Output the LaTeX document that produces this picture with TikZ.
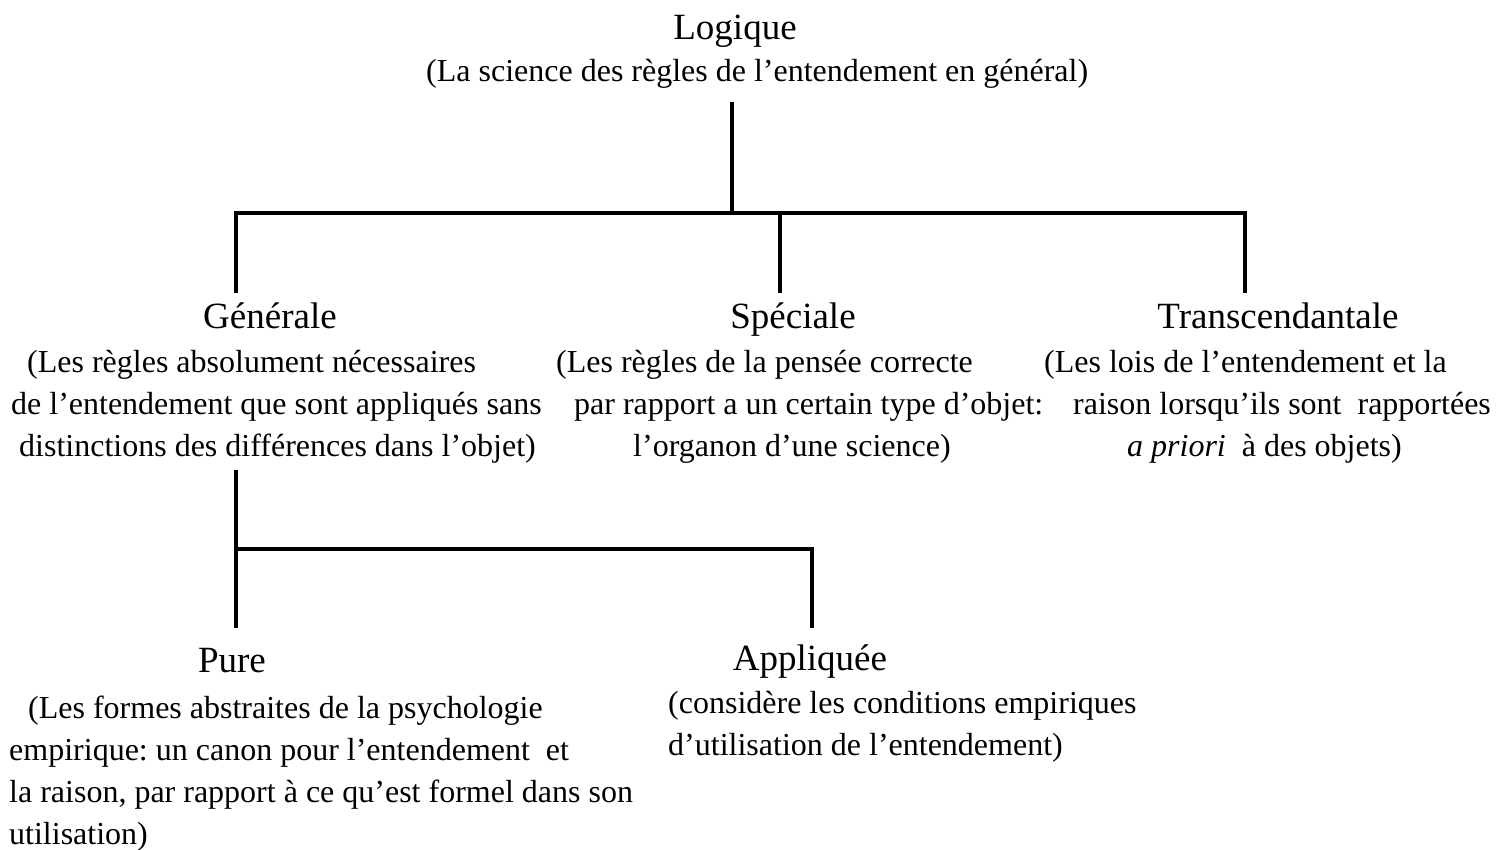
\documentclass[tikz,border=0pt]{standalone}
\usepackage{fontspec}
\setmainfont{Liberation Serif}
\frenchspacing

\tikzset{
  heading/.style={font=\fontsize{37}{44}\selectfont, inner sep=0pt, anchor=base},
  gloss/.style={font=\fontsize{32}{42}\selectfont, inner sep=0pt, align=left, anchor=base west},
  branch/.style={line width=4.8pt},
}

\begin{document}
\begin{tikzpicture}[x=1pt, y=-1pt]
  \useasboundingbox (0,0) rectangle (1512,850);

  % root
  \node[heading] (logique) at (735,40) {Logique};
  \node[gloss] (logique-txt) at (426,82) {(La science des règles de l’entendement en général)};

  % second level (gloss nodes sit on the baseline of their last line)
  \node[heading] (generale) at (270,328) {Générale};
  \node[gloss] (generale-txt) at (11,456) {\hspace*{16pt}(Les règles absolument nécessaires\\
    de l’entendement que sont appliqués sans\\
    \hspace*{8pt}distinctions des différences dans l’objet)};

  \node[heading] (speciale) at (793,328) {Spéciale};
  \node[gloss] (speciale-txt) at (556,456) {(Les règles de la pensée correcte\\
    \hspace*{18pt}par rapport a un certain type d’objet:\\
    \hspace*{77pt}l’organon d’une science)};

  \node[heading] (transc) at (1278,328) {Transcendantale};
  \node[gloss] (transc-txt) at (1044,456) {(Les lois de l’entendement et la\\
    \hspace*{29pt}raison lorsqu’ils sont\ \ rapportées\\
    \hspace*{83pt}\textit{a priori}\ \ à des objets)};

  % third level
  \node[heading] (pure) at (232,672) {Pure};
  \node[gloss] (pure-txt) at (9,844) {\hspace*{19pt}(Les formes abstraites de la psychologie\\
    empirique: un canon pour l’entendement\ \ et\\
    la raison, par rapport à ce qu’est formel dans son\\
    utilisation)};

  \node[heading] (appliquee) at (810,670) {Appliquée};
  \node[gloss] (appliquee-txt) at (668,755) {(considère les conditions empiriques\\
    d’utilisation de l’entendement)};

  % branch points
  \coordinate (logique-out) at (732,102);
  \coordinate (top-bus) at (732,213);
  \coordinate (generale-in) at (236,293);
  \coordinate (speciale-in) at (780,293);
  \coordinate (transc-in) at (1245,293);
  \coordinate (generale-out) at (236,470);
  \coordinate (sub-bus) at (236,549);
  \coordinate (pure-in) at (236,628);
  \coordinate (appliquee-in) at (812,628);

  \draw[branch] (logique-out) -- (top-bus);
  \draw[branch] (generale-in) |- (top-bus) -| (transc-in);
  \draw[branch] (speciale-in) -- (speciale-in |- top-bus);
  \draw[branch] (generale-out) -- (pure-in);
  \draw[branch] (sub-bus) -| (appliquee-in);
\end{tikzpicture}
\end{document}
